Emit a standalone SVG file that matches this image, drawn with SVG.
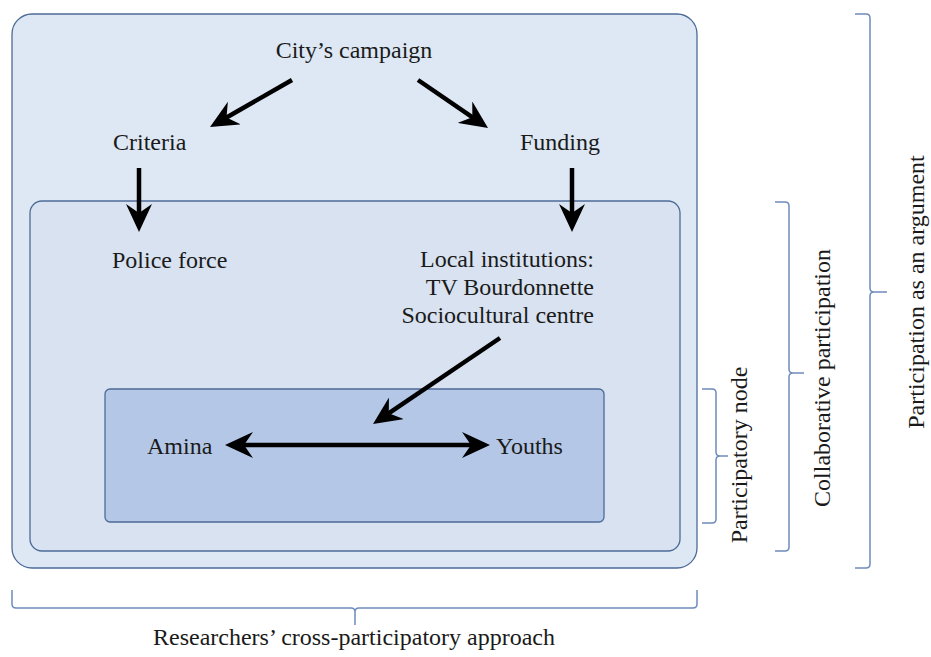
<svg xmlns="http://www.w3.org/2000/svg" width="931" height="657" viewBox="0 0 931 657">
<style>
text{font-family:'Liberation Serif','Times New Roman',serif;font-size:24px;fill:#1a1a1a}
.box{stroke:#4d6b97;stroke-width:1.3}
.arr{stroke:#000;stroke-width:4.5;fill:none}
.br{stroke:#6d8cbc;stroke-width:1.5;fill:none}
</style>
<defs>
<marker id="ah" markerUnits="userSpaceOnUse" markerWidth="28" markerHeight="26" viewBox="0 0 28 26" refX="15" refY="13" orient="auto-start-reverse">
<path d="M0,0 L28,13 L0,26 L9,13 z" fill="#000"/>
</marker>
</defs>
<g id="outer"><rect class="box" x="12" y="14" width="685" height="554" rx="20" fill="#dde8f4"/></g>
<g id="collab"><rect class="box" x="30" y="201" width="650" height="350" rx="12" fill="#d8e2f0"/></g>
<g id="node"><rect class="box" x="105" y="389" width="499" height="133" rx="5" fill="#b4c7e7"/></g>
<g id="city"><text x="354" y="58" text-anchor="middle">City’s campaign</text></g>
<g id="criteria"><text x="113" y="150">Criteria</text></g>
<g id="funding"><text x="600" y="150" text-anchor="end">Funding</text></g>
<g id="police"><text x="112" y="268">Police force</text></g>
<g id="local"><text x="594" y="267" text-anchor="end">Local institutions:</text><text x="594" y="295" text-anchor="end">TV Bourdonnette</text><text x="594" y="323" text-anchor="end">Sociocultural centre</text></g>
<g id="amina"><text x="147" y="454">Amina</text></g>
<g id="youths"><text x="496" y="454">Youths</text></g>
<g id="connectors">
<line class="arr" x1="292" y1="80" x2="221.3" y2="120.5" marker-end="url(#ah)"/>
<line class="arr" x1="418" y1="80" x2="477.3" y2="120.6" marker-end="url(#ah)"/>
<line class="arr" x1="139" y1="168" x2="139" y2="219" marker-end="url(#ah)"/>
<line class="arr" x1="572" y1="168" x2="572" y2="219" marker-end="url(#ah)"/>
<line class="arr" x1="500" y1="338" x2="383.8" y2="416.7" marker-end="url(#ah)"/>
<line class="arr" x1="238" y1="445" x2="477" y2="445" marker-start="url(#ah)" marker-end="url(#ah)"/>
</g>
<g id="brackets">
<path class="br" d="M702,389 H712 Q716,389 716,393 V452 Q716,456 720,456 H728 M720,456 Q716,456 716,460 V519 Q716,523 712,523 H702"/>
<path class="br" d="M775,202 H785 Q789,202 789,206 V369 Q789,373 793,373 H804 M793,373 Q789,373 789,377 V547 Q789,551 785,551 H775"/>
<path class="br" d="M855,14 H866 Q870,14 870,18 V288 Q870,292 874,292 H887 M874,292 Q870,292 870,296 V564 Q870,568 866,568 H855"/>
<path class="br" d="M12,590 V604 Q12,608 16,608 H351 Q355,608 355,612 V625 M355,612 Q355,608 359,608 H693 Q697,608 697,604 V590"/>
</g>
<g id="labels">
<text transform="translate(747,455) rotate(-90)" text-anchor="middle">Participatory node</text>
<text transform="translate(830,378) rotate(-90)" text-anchor="middle">Collaborative participation</text>
<text transform="translate(924,292) rotate(-90)" text-anchor="middle">Participation as an argument</text>
<text x="354" y="645" text-anchor="middle">Researchers’ cross-participatory approach</text>
</g>
</svg>
